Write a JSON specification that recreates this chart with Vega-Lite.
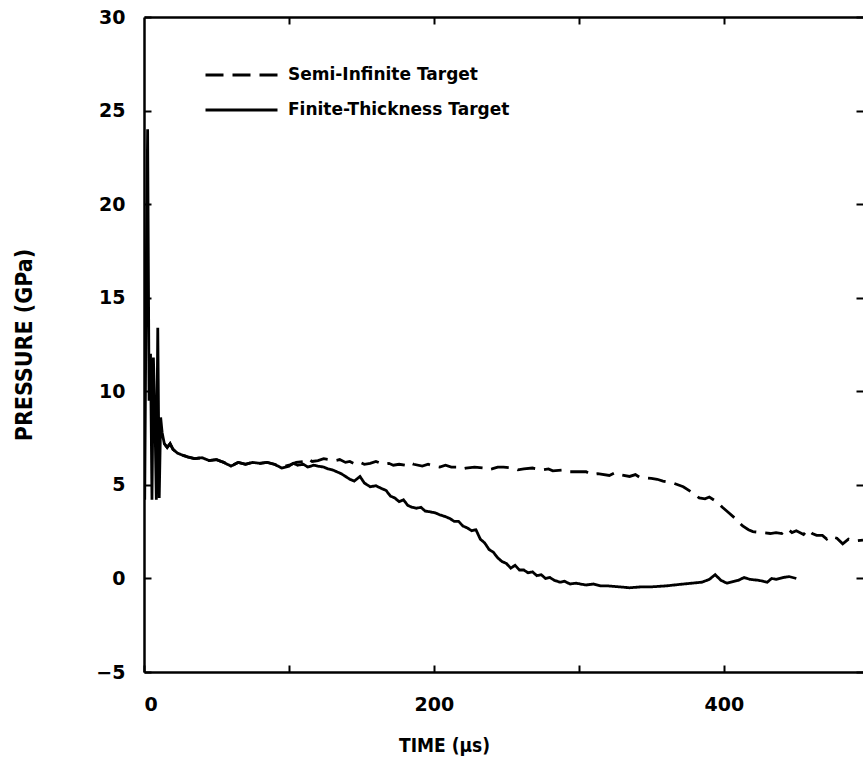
{
  "$schema": "https://vega.github.io/schema/vega-lite/v6.json",
  "autosize": "none",
  "width": 719,
  "height": 655,
  "padding": {"left": 144, "top": 17, "right": 0, "bottom": 97},
  "background": "white",
  "config": {
    "view": {"stroke": null},
    "axis": {"grid": false, "domainColor": "black", "domainWidth": 2.5, "tickColor": "black", "tickWidth": 2, "labelColor": "black", "titleColor": "black", "labelFont": "DejaVu Sans", "labelFontWeight": "bold", "labelFontSize": 19, "titleFont": "DejaVu Sans Condensed", "titleFontWeight": "bold", "titleFontSize": 19}
  },
  "datasets": {
    "curves": [
      {"t": 0.5, "p": 4.2, "s": "Finite-Thickness Target"},
      {"t": 1.5, "p": 16, "s": "Finite-Thickness Target"},
      {"t": 2.5, "p": 24, "s": "Finite-Thickness Target"},
      {"t": 3.5, "p": 9.5, "s": "Finite-Thickness Target"},
      {"t": 4.5, "p": 12, "s": "Finite-Thickness Target"},
      {"t": 5.5, "p": 4.2, "s": "Finite-Thickness Target"},
      {"t": 6.5, "p": 11.8, "s": "Finite-Thickness Target"},
      {"t": 7.5, "p": 8.8, "s": "Finite-Thickness Target"},
      {"t": 8.5, "p": 4.2, "s": "Finite-Thickness Target"},
      {"t": 9.5, "p": 13.4, "s": "Finite-Thickness Target"},
      {"t": 10.5, "p": 4.3, "s": "Finite-Thickness Target"},
      {"t": 11.5, "p": 8.6, "s": "Finite-Thickness Target"},
      {"t": 12.5, "p": 7.8, "s": "Finite-Thickness Target"},
      {"t": 14, "p": 7.2, "s": "Finite-Thickness Target"},
      {"t": 16, "p": 7.0, "s": "Finite-Thickness Target"},
      {"t": 18, "p": 7.2, "s": "Finite-Thickness Target"},
      {"t": 20, "p": 6.9, "s": "Finite-Thickness Target"},
      {"t": 23, "p": 6.7, "s": "Finite-Thickness Target"},
      {"t": 26, "p": 6.6, "s": "Finite-Thickness Target"},
      {"t": 30, "p": 6.5, "s": "Finite-Thickness Target"},
      {"t": 35, "p": 6.4, "s": "Finite-Thickness Target"},
      {"t": 40, "p": 6.45, "s": "Finite-Thickness Target"},
      {"t": 45, "p": 6.3, "s": "Finite-Thickness Target"},
      {"t": 50, "p": 6.35, "s": "Finite-Thickness Target"},
      {"t": 55, "p": 6.2, "s": "Finite-Thickness Target"},
      {"t": 60, "p": 6.0, "s": "Finite-Thickness Target"},
      {"t": 65, "p": 6.2, "s": "Finite-Thickness Target"},
      {"t": 70, "p": 6.1, "s": "Finite-Thickness Target"},
      {"t": 75, "p": 6.2, "s": "Finite-Thickness Target"},
      {"t": 80, "p": 6.15, "s": "Finite-Thickness Target"},
      {"t": 85, "p": 6.2, "s": "Finite-Thickness Target"},
      {"t": 90, "p": 6.1, "s": "Finite-Thickness Target"},
      {"t": 95, "p": 5.9, "s": "Finite-Thickness Target"},
      {"t": 100, "p": 6.0, "s": "Finite-Thickness Target"},
      {"t": 103, "p": 6.15, "s": "Finite-Thickness Target"},
      {"t": 106, "p": 6.05, "s": "Finite-Thickness Target"},
      {"t": 110, "p": 6.1, "s": "Finite-Thickness Target"},
      {"t": 113, "p": 5.95, "s": "Finite-Thickness Target"},
      {"t": 117, "p": 6.05, "s": "Finite-Thickness Target"},
      {"t": 120, "p": 6.0, "s": "Finite-Thickness Target"},
      {"t": 124, "p": 5.95, "s": "Finite-Thickness Target"},
      {"t": 127, "p": 5.85, "s": "Finite-Thickness Target"},
      {"t": 130, "p": 5.8, "s": "Finite-Thickness Target"},
      {"t": 133, "p": 5.7, "s": "Finite-Thickness Target"},
      {"t": 136, "p": 5.6, "s": "Finite-Thickness Target"},
      {"t": 139, "p": 5.45, "s": "Finite-Thickness Target"},
      {"t": 142, "p": 5.3, "s": "Finite-Thickness Target"},
      {"t": 145, "p": 5.2, "s": "Finite-Thickness Target"},
      {"t": 149, "p": 5.45, "s": "Finite-Thickness Target"},
      {"t": 152, "p": 5.1, "s": "Finite-Thickness Target"},
      {"t": 156, "p": 4.9, "s": "Finite-Thickness Target"},
      {"t": 160, "p": 4.95, "s": "Finite-Thickness Target"},
      {"t": 164, "p": 4.8, "s": "Finite-Thickness Target"},
      {"t": 167, "p": 4.7, "s": "Finite-Thickness Target"},
      {"t": 170, "p": 4.4, "s": "Finite-Thickness Target"},
      {"t": 173, "p": 4.3, "s": "Finite-Thickness Target"},
      {"t": 176, "p": 4.1, "s": "Finite-Thickness Target"},
      {"t": 179, "p": 4.2, "s": "Finite-Thickness Target"},
      {"t": 182, "p": 3.9, "s": "Finite-Thickness Target"},
      {"t": 185, "p": 3.8, "s": "Finite-Thickness Target"},
      {"t": 188, "p": 3.75, "s": "Finite-Thickness Target"},
      {"t": 191, "p": 3.8, "s": "Finite-Thickness Target"},
      {"t": 194, "p": 3.6, "s": "Finite-Thickness Target"},
      {"t": 198, "p": 3.55, "s": "Finite-Thickness Target"},
      {"t": 201, "p": 3.5, "s": "Finite-Thickness Target"},
      {"t": 204, "p": 3.4, "s": "Finite-Thickness Target"},
      {"t": 208, "p": 3.3, "s": "Finite-Thickness Target"},
      {"t": 211, "p": 3.2, "s": "Finite-Thickness Target"},
      {"t": 214, "p": 3.05, "s": "Finite-Thickness Target"},
      {"t": 217, "p": 3.05, "s": "Finite-Thickness Target"},
      {"t": 220, "p": 2.8, "s": "Finite-Thickness Target"},
      {"t": 223, "p": 2.7, "s": "Finite-Thickness Target"},
      {"t": 226, "p": 2.55, "s": "Finite-Thickness Target"},
      {"t": 229, "p": 2.6, "s": "Finite-Thickness Target"},
      {"t": 232, "p": 2.1, "s": "Finite-Thickness Target"},
      {"t": 235, "p": 1.9, "s": "Finite-Thickness Target"},
      {"t": 238, "p": 1.55, "s": "Finite-Thickness Target"},
      {"t": 241, "p": 1.4, "s": "Finite-Thickness Target"},
      {"t": 244, "p": 1.1, "s": "Finite-Thickness Target"},
      {"t": 247, "p": 0.9, "s": "Finite-Thickness Target"},
      {"t": 250, "p": 0.8, "s": "Finite-Thickness Target"},
      {"t": 253, "p": 0.55, "s": "Finite-Thickness Target"},
      {"t": 256, "p": 0.7, "s": "Finite-Thickness Target"},
      {"t": 259, "p": 0.45, "s": "Finite-Thickness Target"},
      {"t": 262, "p": 0.45, "s": "Finite-Thickness Target"},
      {"t": 265, "p": 0.3, "s": "Finite-Thickness Target"},
      {"t": 268, "p": 0.35, "s": "Finite-Thickness Target"},
      {"t": 271, "p": 0.15, "s": "Finite-Thickness Target"},
      {"t": 274, "p": 0.2, "s": "Finite-Thickness Target"},
      {"t": 277, "p": 0.0, "s": "Finite-Thickness Target"},
      {"t": 280, "p": 0.05, "s": "Finite-Thickness Target"},
      {"t": 283, "p": -0.1, "s": "Finite-Thickness Target"},
      {"t": 287, "p": -0.2, "s": "Finite-Thickness Target"},
      {"t": 290, "p": -0.15, "s": "Finite-Thickness Target"},
      {"t": 294, "p": -0.3, "s": "Finite-Thickness Target"},
      {"t": 298, "p": -0.25, "s": "Finite-Thickness Target"},
      {"t": 301, "p": -0.3, "s": "Finite-Thickness Target"},
      {"t": 305, "p": -0.35, "s": "Finite-Thickness Target"},
      {"t": 310, "p": -0.3, "s": "Finite-Thickness Target"},
      {"t": 315, "p": -0.4, "s": "Finite-Thickness Target"},
      {"t": 320, "p": -0.4, "s": "Finite-Thickness Target"},
      {"t": 328, "p": -0.45, "s": "Finite-Thickness Target"},
      {"t": 335, "p": -0.5, "s": "Finite-Thickness Target"},
      {"t": 343, "p": -0.45, "s": "Finite-Thickness Target"},
      {"t": 350, "p": -0.45, "s": "Finite-Thickness Target"},
      {"t": 360, "p": -0.4, "s": "Finite-Thickness Target"},
      {"t": 372, "p": -0.3, "s": "Finite-Thickness Target"},
      {"t": 385, "p": -0.2, "s": "Finite-Thickness Target"},
      {"t": 390, "p": -0.05, "s": "Finite-Thickness Target"},
      {"t": 394, "p": 0.2, "s": "Finite-Thickness Target"},
      {"t": 398, "p": -0.1, "s": "Finite-Thickness Target"},
      {"t": 402, "p": -0.25, "s": "Finite-Thickness Target"},
      {"t": 410, "p": -0.1, "s": "Finite-Thickness Target"},
      {"t": 414, "p": 0.05, "s": "Finite-Thickness Target"},
      {"t": 418, "p": -0.05, "s": "Finite-Thickness Target"},
      {"t": 424, "p": -0.1, "s": "Finite-Thickness Target"},
      {"t": 430, "p": -0.2, "s": "Finite-Thickness Target"},
      {"t": 433, "p": 0.0, "s": "Finite-Thickness Target"},
      {"t": 436, "p": -0.05, "s": "Finite-Thickness Target"},
      {"t": 441, "p": 0.05, "s": "Finite-Thickness Target"},
      {"t": 445, "p": 0.1, "s": "Finite-Thickness Target"},
      {"t": 450, "p": 0.0, "s": "Finite-Thickness Target"},
      {"t": 14, "p": 7.2, "s": "Semi-Infinite Target"},
      {"t": 16, "p": 7.0, "s": "Semi-Infinite Target"},
      {"t": 18, "p": 7.2, "s": "Semi-Infinite Target"},
      {"t": 20, "p": 6.9, "s": "Semi-Infinite Target"},
      {"t": 23, "p": 6.7, "s": "Semi-Infinite Target"},
      {"t": 26, "p": 6.6, "s": "Semi-Infinite Target"},
      {"t": 30, "p": 6.5, "s": "Semi-Infinite Target"},
      {"t": 35, "p": 6.4, "s": "Semi-Infinite Target"},
      {"t": 40, "p": 6.45, "s": "Semi-Infinite Target"},
      {"t": 45, "p": 6.3, "s": "Semi-Infinite Target"},
      {"t": 50, "p": 6.35, "s": "Semi-Infinite Target"},
      {"t": 55, "p": 6.2, "s": "Semi-Infinite Target"},
      {"t": 60, "p": 6.0, "s": "Semi-Infinite Target"},
      {"t": 65, "p": 6.2, "s": "Semi-Infinite Target"},
      {"t": 70, "p": 6.1, "s": "Semi-Infinite Target"},
      {"t": 75, "p": 6.2, "s": "Semi-Infinite Target"},
      {"t": 80, "p": 6.15, "s": "Semi-Infinite Target"},
      {"t": 85, "p": 6.2, "s": "Semi-Infinite Target"},
      {"t": 90, "p": 6.1, "s": "Semi-Infinite Target"},
      {"t": 95, "p": 5.95, "s": "Semi-Infinite Target"},
      {"t": 100, "p": 6.05, "s": "Semi-Infinite Target"},
      {"t": 105, "p": 6.2, "s": "Semi-Infinite Target"},
      {"t": 110, "p": 6.25, "s": "Semi-Infinite Target"},
      {"t": 113, "p": 6.4, "s": "Semi-Infinite Target"},
      {"t": 116, "p": 6.25, "s": "Semi-Infinite Target"},
      {"t": 120, "p": 6.3, "s": "Semi-Infinite Target"},
      {"t": 124, "p": 6.4, "s": "Semi-Infinite Target"},
      {"t": 128, "p": 6.35, "s": "Semi-Infinite Target"},
      {"t": 132, "p": 6.3, "s": "Semi-Infinite Target"},
      {"t": 135, "p": 6.35, "s": "Semi-Infinite Target"},
      {"t": 139, "p": 6.2, "s": "Semi-Infinite Target"},
      {"t": 142, "p": 6.25, "s": "Semi-Infinite Target"},
      {"t": 146, "p": 6.1, "s": "Semi-Infinite Target"},
      {"t": 149, "p": 6.2, "s": "Semi-Infinite Target"},
      {"t": 152, "p": 6.1, "s": "Semi-Infinite Target"},
      {"t": 156, "p": 6.15, "s": "Semi-Infinite Target"},
      {"t": 160, "p": 6.25, "s": "Semi-Infinite Target"},
      {"t": 165, "p": 6.1, "s": "Semi-Infinite Target"},
      {"t": 169, "p": 6.15, "s": "Semi-Infinite Target"},
      {"t": 172, "p": 6.05, "s": "Semi-Infinite Target"},
      {"t": 176, "p": 6.1, "s": "Semi-Infinite Target"},
      {"t": 180, "p": 6.05, "s": "Semi-Infinite Target"},
      {"t": 183, "p": 6.2, "s": "Semi-Infinite Target"},
      {"t": 186, "p": 6.1, "s": "Semi-Infinite Target"},
      {"t": 192, "p": 6.0, "s": "Semi-Infinite Target"},
      {"t": 196, "p": 6.1, "s": "Semi-Infinite Target"},
      {"t": 200, "p": 6.0, "s": "Semi-Infinite Target"},
      {"t": 204, "p": 5.95, "s": "Semi-Infinite Target"},
      {"t": 208, "p": 6.05, "s": "Semi-Infinite Target"},
      {"t": 212, "p": 5.95, "s": "Semi-Infinite Target"},
      {"t": 216, "p": 5.95, "s": "Semi-Infinite Target"},
      {"t": 219, "p": 5.85, "s": "Semi-Infinite Target"},
      {"t": 222, "p": 5.9, "s": "Semi-Infinite Target"},
      {"t": 228, "p": 5.95, "s": "Semi-Infinite Target"},
      {"t": 234, "p": 5.9, "s": "Semi-Infinite Target"},
      {"t": 237, "p": 5.8, "s": "Semi-Infinite Target"},
      {"t": 240, "p": 5.85, "s": "Semi-Infinite Target"},
      {"t": 244, "p": 5.95, "s": "Semi-Infinite Target"},
      {"t": 248, "p": 5.95, "s": "Semi-Infinite Target"},
      {"t": 255, "p": 5.9, "s": "Semi-Infinite Target"},
      {"t": 258, "p": 5.8, "s": "Semi-Infinite Target"},
      {"t": 262, "p": 5.85, "s": "Semi-Infinite Target"},
      {"t": 268, "p": 5.9, "s": "Semi-Infinite Target"},
      {"t": 275, "p": 5.8, "s": "Semi-Infinite Target"},
      {"t": 279, "p": 5.85, "s": "Semi-Infinite Target"},
      {"t": 282, "p": 5.75, "s": "Semi-Infinite Target"},
      {"t": 290, "p": 5.8, "s": "Semi-Infinite Target"},
      {"t": 294, "p": 5.7, "s": "Semi-Infinite Target"},
      {"t": 298, "p": 5.7, "s": "Semi-Infinite Target"},
      {"t": 305, "p": 5.7, "s": "Semi-Infinite Target"},
      {"t": 309, "p": 5.55, "s": "Semi-Infinite Target"},
      {"t": 313, "p": 5.6, "s": "Semi-Infinite Target"},
      {"t": 321, "p": 5.5, "s": "Semi-Infinite Target"},
      {"t": 325, "p": 5.65, "s": "Semi-Infinite Target"},
      {"t": 328, "p": 5.55, "s": "Semi-Infinite Target"},
      {"t": 335, "p": 5.45, "s": "Semi-Infinite Target"},
      {"t": 339, "p": 5.55, "s": "Semi-Infinite Target"},
      {"t": 342, "p": 5.4, "s": "Semi-Infinite Target"},
      {"t": 350, "p": 5.35, "s": "Semi-Infinite Target"},
      {"t": 354, "p": 5.3, "s": "Semi-Infinite Target"},
      {"t": 358, "p": 5.2, "s": "Semi-Infinite Target"},
      {"t": 365, "p": 5.1, "s": "Semi-Infinite Target"},
      {"t": 372, "p": 4.9, "s": "Semi-Infinite Target"},
      {"t": 378, "p": 4.6, "s": "Semi-Infinite Target"},
      {"t": 383, "p": 4.3, "s": "Semi-Infinite Target"},
      {"t": 387, "p": 4.25, "s": "Semi-Infinite Target"},
      {"t": 390, "p": 4.35, "s": "Semi-Infinite Target"},
      {"t": 395, "p": 4.1, "s": "Semi-Infinite Target"},
      {"t": 399, "p": 3.8, "s": "Semi-Infinite Target"},
      {"t": 402, "p": 3.6, "s": "Semi-Infinite Target"},
      {"t": 408, "p": 3.2, "s": "Semi-Infinite Target"},
      {"t": 413, "p": 2.8, "s": "Semi-Infinite Target"},
      {"t": 417, "p": 2.6, "s": "Semi-Infinite Target"},
      {"t": 420, "p": 2.5, "s": "Semi-Infinite Target"},
      {"t": 426, "p": 2.45, "s": "Semi-Infinite Target"},
      {"t": 432, "p": 2.4, "s": "Semi-Infinite Target"},
      {"t": 436, "p": 2.45, "s": "Semi-Infinite Target"},
      {"t": 440, "p": 2.4, "s": "Semi-Infinite Target"},
      {"t": 444, "p": 2.65, "s": "Semi-Infinite Target"},
      {"t": 447, "p": 2.45, "s": "Semi-Infinite Target"},
      {"t": 450, "p": 2.55, "s": "Semi-Infinite Target"},
      {"t": 455, "p": 2.35, "s": "Semi-Infinite Target"},
      {"t": 458, "p": 2.6, "s": "Semi-Infinite Target"},
      {"t": 461, "p": 2.4, "s": "Semi-Infinite Target"},
      {"t": 464, "p": 2.3, "s": "Semi-Infinite Target"},
      {"t": 468, "p": 2.3, "s": "Semi-Infinite Target"},
      {"t": 471, "p": 2.1, "s": "Semi-Infinite Target"},
      {"t": 473, "p": 2.25, "s": "Semi-Infinite Target"},
      {"t": 478, "p": 2.15, "s": "Semi-Infinite Target"},
      {"t": 482, "p": 1.85, "s": "Semi-Infinite Target"},
      {"t": 486, "p": 2.1, "s": "Semi-Infinite Target"},
      {"t": 490, "p": 2.0, "s": "Semi-Infinite Target"},
      {"t": 496, "p": 2.05, "s": "Semi-Infinite Target"}
    ]
  },
  "data": {"name": "curves"},
  "encoding": {
    "x": {"field": "t", "type": "quantitative", "scale": {"domain": [0, 496], "nice": false, "zero": false}},
    "y": {"field": "p", "type": "quantitative", "scale": {"domain": [-5, 30], "nice": false, "zero": false}}
  },
  "layer": [
    {
      "mark": {"type": "line", "color": "black", "strokeWidth": 2.8, "clip": true, "interpolate": "linear"},
      "encoding": {
        "x": {"field": "t", "type": "quantitative", "axis": {"orient": "bottom", "title": "TIME  (μs)", "values": [0, 100, 200, 300, 400], "labelExpr": "datum.value % 200 === 0 ? datum.label : ''", "tickSize": -7, "labelPadding": 30, "titlePadding": 22, "titleX": 300, "titleAnchor": null}},
        "y": {"field": "p", "type": "quantitative", "axis": {"orient": "left", "title": "PRESSURE  (GPa)", "titleFontSize": 23, "values": [-5, 0, 5, 10, 15, 20, 25, 30], "tickSize": -7, "labelPadding": 26, "titlePadding": 59}},
        "strokeDash": {
          "field": "s", "type": "nominal",
          "scale": {"domain": ["Semi-Infinite Target", "Finite-Thickness Target"], "range": [[18, 9], [1, 0]]},
          "legend": {"orient": "none", "legendX": 60, "legendY": 48, "title": null, "symbolType": "stroke", "symbolSize": 5184, "symbolStrokeWidth": 3, "symbolStrokeColor": "black", "labelFont": "DejaVu Sans", "labelFontWeight": "bold", "labelFontSize": 17, "labelColor": "black", "labelOffset": 9, "labelLimit": 0, "clipHeight": 20, "rowPadding": 15, "padding": 0}
        }
      }
    },
    {
      "mark": {"type": "line", "opacity": 0},
      "encoding": {
        "x": {"field": "t", "type": "quantitative", "axis": {"orient": "top", "title": null, "labels": false, "domain": true, "values": [100, 200, 300, 400], "tickSize": -7}},
        "y": {"field": "p", "type": "quantitative", "axis": {"orient": "right", "title": null, "labels": false, "domain": false, "values": [-5, 0, 5, 10, 15, 20, 25, 30], "tickSize": -7}}
      }
    }
  ],
  "resolve": {"axis": {"x": "independent", "y": "independent"}}
}
